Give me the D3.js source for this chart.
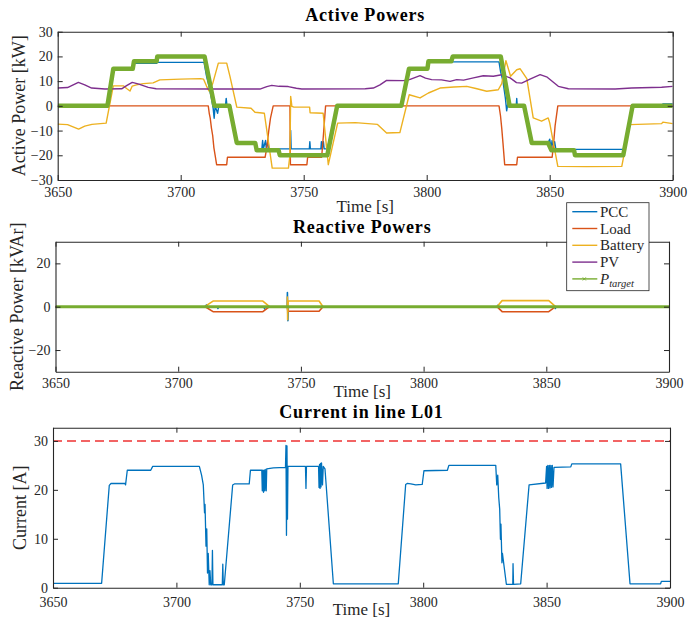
<!DOCTYPE html>
<html>
<head>
<meta charset="utf-8">
<script src="https://cdn.jsdelivr.net/npm/d3@7"></script>
<style>
  body { margin: 0; background: #fff; }
  text { font-family: "Liberation Serif", "Times New Roman", serif; fill: #262626; }
</style>
</head>
<body>
<div id="chart"></div>
<script>
var width = 688;
var height = 623;

// ---- data (time [s], value) ----
var xTicks = [3650, 3700, 3750, 3800, 3850, 3900];
var activeTicks = [-30, -20, -10, 0, 10, 20, 30];
var reactiveTicks = [-20, 0, 20];
var currentTicks = [0, 10, 20, 30];
var currentLimit = 30;

var seriesNames = ['PCC', 'Load', 'Battery', 'PV'];
var seriesColors = ['#0072BD', '#D95319', '#EDB120', '#7E2F8E'];
var targetColor = '#77AC30';

var pccActive = [[3650,0],[3670.2,0],[3672.6,15],[3680.5,15],[3681,17.2],[3690.2,17.2],[3690.5,17.6],[3709.5,17.6],
  [3710.5,12],[3711.5,8],[3712.5,3],[3713.2,-1],[3713.6,-5],[3714,0],[3715,-3],[3715.5,0],[3718.2,0],[3718.5,3],[3718.8,0],
  [3719.8,0],[3722.8,-15],[3730.3,-15],[3730.9,-17.4],[3733,-17.4],[3733.3,-14],[3733.6,-17.4],[3734.5,-14],[3734.8,-17.4],
  [3735.5,-14],[3735.8,-17.4],[3744.5,-17.4],[3744.7,-10],[3744.9,-17.4],[3752.3,-17.4],[3752.5,-14.5],[3752.7,-17.4],
  [3757,-17.4],[3757.2,-14.5],[3757.5,-17.4],[3758,-14.5],[3758.3,-17.4],[3759.6,-17.4],[3763.6,0],[3789.7,0],[3792.8,15],
  [3800.3,15],[3800.7,17.6],[3810,17.6],[3810.6,17.8],[3829.4,17.8],[3830,14],[3831,10],[3832,3],[3832.5,-2],[3833,1],
  [3833.7,0],[3836.4,0],[3836.6,3],[3836.8,0],[3839.6,0],[3842.7,-15],[3849.3,-15],[3850,-13.5],[3850.5,-17],[3851,-14],
  [3851.5,-17],[3852,-14.5],[3852.5,-17.6],[3880,-17.6],[3883.7,0],[3895.8,0],[3896,0.8],[3900,0.8]];

var loadActive = [[3650,0],[3711.2,0],[3711.6,-3],[3712,-5],[3712.5,-9],[3713,-12],[3713.5,-17],[3714,-20],[3714.6,-23.8],
  [3718.7,-23.8],[3719,-20.8],[3734.3,-20.8],[3735,-17],[3735.8,-10],[3736.5,-5],[3737.6,0],[3744.4,0],[3744.6,-23.8],
  [3751.3,-23.8],[3751.6,-20.8],[3757.3,-20.8],[3758,-12],[3758.9,0],[3829.4,0],[3830,-4],[3830.5,-9],[3831,-15],
  [3831.7,-23.8],[3836.6,-23.8],[3836.9,-20.8],[3851,-20.8],[3851.6,-15],[3852.2,-8],[3853.3,0],[3900,0]];

var batteryActive = [[3650,-7.4],[3654,-7.6],[3658.5,-9.4],[3661,-8.2],[3663.9,-7.5],[3669.7,-7],[3672.6,8.1],[3676.7,8.1],
  [3678,7],[3679.4,6],[3680.3,8],[3682,8.5],[3684.8,9],[3688.8,9.3],[3691.5,10.5],[3700,10.8],[3708,11],[3709.3,10.8],
  [3710.5,8],[3711.5,6],[3713,9],[3715.3,17.3],[3718.7,17.3],[3720,12],[3722.8,-0.5],[3728.6,-1],[3730.2,-2.6],[3734,-3],
  [3737.2,-25.2],[3743.8,-25.2],[3744.4,-20],[3744.7,3.8],[3745.2,-0.2],[3746,-0.5],[3752.4,-0.5],[3752.6,-2.8],[3757.9,-3],
  [3760,-23.8],[3763.8,-7],[3771,-6.8],[3780,-7.5],[3783.7,-11],[3789.1,-10.8],[3792.9,4.5],[3797.3,3.2],[3800.7,5.2],
  [3805.4,7.2],[3811,7.6],[3816.3,7.9],[3820,7],[3824.4,5.9],[3829.1,6.5],[3830.5,9],[3832.2,18.3],[3834.1,12],
  [3836.6,14.6],[3838,15],[3840.7,11],[3843.3,-4.9],[3846.7,-6.2],[3849.4,-4.9],[3850,-6.9],[3853.3,-24.5],[3865,-24.6],
  [3879.3,-24.5],[3882.6,-7.6],[3895.5,-7.2],[3896,-6.6],[3900,-7.2]];

var pvActive = [[3650,7.2],[3654,7.4],[3658.4,9.5],[3661,8.5],[3663.8,7.2],[3669.2,6.8],[3676,6.9],[3678,8.2],[3680.3,9.5],
  [3683,8.8],[3686.8,7.5],[3690,6.9],[3714,6.8],[3732.2,6.8],[3735,7.8],[3737,8.3],[3740,7.9],[3743.7,7.8],[3747,7.1],
  [3749.2,6.8],[3775,6.9],[3778.3,7.2],[3781,8.5],[3783.7,10.3],[3790.5,10.2],[3793,10.6],[3797.3,12.2],[3799.5,11.2],
  [3802,10.6],[3806,10.5],[3809.5,9.9],[3812.2,10.6],[3815,10.4],[3819,11.3],[3823,12.2],[3827.1,12],[3830.5,12.6],
  [3833.9,11.3],[3836.5,9.4],[3838.6,9.2],[3842,10.8],[3846.1,12.6],[3849,11.6],[3853.5,7.9],[3857.6,6.9],[3876.6,6.8],
  [3883.3,7.2],[3895.5,7.5],[3900,7.9]];

var targetActive = [[3650,0],[3670.2,0],[3672.6,15],[3680.5,15],[3681,18],[3690.2,18],[3690.5,20],[3709.7,20],[3713.7,0],
  [3719.8,0],[3722.8,-15],[3730.3,-15],[3730.9,-18],[3739.8,-18],[3740.3,-20],[3759.6,-20],[3763.6,0],[3789.7,0],
  [3792.8,15],[3800.3,15],[3800.7,18],[3810,18],[3810.6,20],[3830.1,20],[3833.7,0],[3839.6,0],[3842.7,-15],[3849.3,-15],
  [3850.7,-18],[3859.9,-18],[3860.3,-20],[3879.9,-20],[3883.7,0],[3900,0]];

var pccReactive = [[3650,0],[3711,0],[3711.5,0.8],[3712,0],[3716,0],[3716.2,-0.8],[3716.4,0],[3735,0],[3735.2,-1],
  [3735.4,0],[3744.4,0],[3744.5,6.5],[3744.7,-6.5],[3744.9,0],[3830,0],[3830.2,0.6],[3830.4,0],[3853.5,0],[3853.7,-0.8],
  [3853.9,0],[3900,0]];
var loadReactive = [[3650,0],[3711,0],[3714.2,-2.3],[3734.5,-2.3],[3737.2,0],[3744.4,0],[3744.7,-2.1],[3757.4,-2.1],
  [3759,0],[3829.9,0],[3832,-2.3],[3851,-2.3],[3853.8,0],[3900,0]];
var batteryReactive = [[3650,0],[3710.8,0],[3714.2,2.6],[3734.5,2.6],[3737.2,0],[3744.4,0],[3744.5,4.5],[3744.6,-6],
  [3744.8,2.6],[3757.4,2.6],[3759,0],[3829.9,0],[3832,2.8],[3851,2.8],[3853.8,0],[3900,0]];
var pvReactive = [[3650,0],[3900,0]];
var targetReactive = [[3650,0],[3900,0]];

var currentL01 = [[3650,0.9],[3669.7,0.9],[3672.8,20.9],[3673.5,21.3],[3679.2,21.3],[3679.4,21],[3680.1,24],[3689.6,24],
  [3690.4,24.8],[3709.3,24.8],[3710.2,23],[3710.9,21],[3711.4,15.3],[3711.6,17],[3712,8.5],[3712.3,12],[3712.6,3],
  [3712.9,7],[3713.3,0.6],[3713.6,3.5],[3713.9,0.6],[3714.4,0.6],[3714.6,7.6],[3714.8,0.6],[3718.6,0.6],[3718.8,4.8],
  [3719,0.6],[3719.4,0.6],[3722.8,21],[3723.5,21.2],[3729.5,21.2],[3730,24],[3734.6,24],[3734.8,19.8],[3735,24],
  [3735.3,19.5],[3735.5,24],[3735.8,19.8],[3736,24.2],[3736.4,19.8],[3736.6,24.3],[3739.3,24.5],[3744.2,24.6],
  [3744.4,29.1],[3744.6,10.7],[3744.8,29],[3745,14],[3745.2,24.8],[3752.3,24.8],[3752.5,20.3],[3752.7,24.8],[3757.6,24.8],
  [3757.8,20.5],[3758,25.2],[3758.2,20.3],[3758.4,25.4],[3758.6,20.6],[3758.8,25.5],[3759.2,21],[3759.5,24.8],
  [3760.2,24.3],[3763.6,0.8],[3789.9,0.8],[3792.9,21.1],[3793.5,21.3],[3795,21.2],[3797,21],[3799.6,21.1],[3800.3,23.9],
  [3809.8,24],[3810.4,25],[3829.4,25],[3829.8,21],[3830.2,23],[3830.6,18.5],[3831,16],[3831.3,9.9],[3831.5,13],
  [3831.9,5.1],[3832.1,7],[3833.7,0.7],[3836.3,0.7],[3836.4,4.9],[3836.6,0.7],[3839.5,0.8],[3842.9,21],[3849.6,21.4],
  [3850,24.8],[3850.2,20.3],[3850.5,25],[3850.8,20.3],[3851.1,25],[3851.4,20.4],[3851.7,25],[3852,20.5],[3852.3,25],
  [3852.6,20.6],[3853,24.6],[3859.8,24.7],[3860.2,25.3],[3880,25.3],[3883.8,0.8],[3896.2,0.8],[3896.5,1.3],[3900,1.3]];

var svg = d3.select('#chart')
  .append('svg')
  .attr('width', width)
  .attr('height', height);

var fmt = d3.format('d');

// draws a boxed matlab-style axes, returns the scales and the plot group
function makePanel(opt){
  var x = d3.scaleLinear().domain([3650, 3900]).range([opt.left, opt.right]);
  var y = d3.scaleLinear().domain(opt.yDomain).range([opt.bottom, opt.top]);
  var id = 'clip' + opt.name;
  svg.append('clipPath').attr('id', id)
    .append('rect')
    .attr('x', opt.left).attr('y', opt.top)
    .attr('width', opt.right - opt.left).attr('height', opt.bottom - opt.top);

  var g = svg.append('g').attr('clip-path', 'url(#' + id + ')');

  var axes = svg.append('g');
  axes.append('g')
    .attr('transform', 'translate(0,' + opt.bottom + ')')
    .call(d3.axisBottom(x).tickValues(xTicks).tickFormat(fmt).tickSizeInner(-5).tickSizeOuter(0).tickPadding(opt.xPad));
  axes.append('g')
    .attr('transform', 'translate(0,' + opt.top + ')')
    .call(d3.axisTop(x).tickValues(xTicks).tickSizeInner(-5).tickSizeOuter(0).tickFormat(''));
  axes.append('g')
    .attr('transform', 'translate(' + opt.left + ',0)')
    .call(d3.axisLeft(y).tickValues(opt.yTicks).tickFormat(fmt).tickSizeInner(-5).tickSizeOuter(0).tickPadding(5));
  axes.append('g')
    .attr('transform', 'translate(' + opt.right + ',0)')
    .call(d3.axisRight(y).tickValues(opt.yTicks).tickSizeInner(-5).tickSizeOuter(0).tickFormat(''));
  axes.selectAll('path.domain').attr('stroke', '#262626').attr('stroke-width', 1.1);
  axes.selectAll('.tick line').attr('stroke', '#262626').attr('stroke-width', 1);
  axes.selectAll('.tick text')
    .style('font-family', '"Liberation Serif", serif')
    .style('font-size', '14px')
    .attr('fill', '#262626');

  var cx = (opt.left + opt.right) / 2;
  svg.append('text')
    .text(opt.title)
    .attr('x', cx).attr('y', opt.titleY)
    .attr('text-anchor', 'middle')
    .style('font-size', '18px')
    .style('font-weight', 'bold')
    .style('letter-spacing', '0.8px')
    .style('fill', '#000');
  svg.append('text')
    .text('Time [s]')
    .attr('x', cx).attr('y', opt.xLabelY)
    .attr('text-anchor', 'middle')
    .style('font-size', '17px');
  svg.append('text')
    .text(opt.yLabel)
    .attr('text-anchor', 'middle')
    .attr('transform', 'translate(' + opt.yLabelX + ',' + ((opt.top + opt.bottom) / 2) + ')rotate(-90)')
    .style('font-size', '18px');

  return {x: x, y: y, g: g};
}

function drawLine(panel, data, color, w){
  var line = d3.line()
    .x(function(d){ return panel.x(d[0]); })
    .y(function(d){ return panel.y(d[1]); });
  panel.g.append('path')
    .datum(data)
    .attr('d', line)
    .attr('fill', 'none')
    .attr('stroke', color)
    .attr('stroke-width', w)
    .attr('stroke-linejoin', 'round');
}

//active powers
var top1 = makePanel({name: 'a', left: 57.7, right: 672.7, top: 31.7, bottom: 180, yDomain: [-30, 30],
  yTicks: activeTicks, xPad: 7, title: 'Active Powers', titleY: 21, xLabelY: 212,
  yLabel: 'Active Power [kW]', yLabelX: 25});
[pccActive, loadActive, batteryActive, pvActive].forEach(function(s, i){
  drawLine(top1, s, seriesColors[i], 1.4);
});
drawLine(top1, targetActive, targetColor, 4.5);

//reactive powers
var mid = makePanel({name: 'r', left: 55.5, right: 669, top: 241.7, bottom: 371.7, yDomain: [-30, 30],
  yTicks: reactiveTicks, xPad: 6.3, title: 'Reactive Powers', titleY: 233, xLabelY: 397,
  yLabel: 'Reactive Power [kVAr]', yLabelX: 22.5});
[pccReactive, loadReactive, batteryReactive, pvReactive].forEach(function(s, i){
  drawLine(mid, s, seriesColors[i], 1.6);
});
drawLine(mid, targetReactive, targetColor, 3);

//current in line L01
var bot = makePanel({name: 'c', left: 53, right: 670, top: 427.7, bottom: 587.7, yDomain: [0, 32.7],
  yTicks: currentTicks, xPad: 9, title: 'Current in line L01', titleY: 418, xLabelY: 615,
  yLabel: 'Current [A]', yLabelX: 26});
drawLine(bot, currentL01, '#0072BD', 1.3);
bot.g.append('line')
  .attr('x1', bot.x(3650)).attr('x2', bot.x(3900))
  .attr('y1', bot.y(currentLimit)).attr('y2', bot.y(currentLimit))
  .attr('stroke', '#F26464')
  .attr('stroke-width', 2)
  .attr('stroke-dasharray', '9,5');

//legend
var legend = svg.append('g');
legend.append('rect')
  .attr('x', 566.7).attr('y', 202.7)
  .attr('width', 82.3).attr('height', 88)
  .attr('fill', '#fff')
  .attr('stroke', '#262626')
  .attr('stroke-width', 0.8);
var legendItems = seriesNames.concat(['target']);
legendItems.forEach(function(name, i){
  var yy = 211.7 + i * 16.8;
  var col = i < 4 ? seriesColors[i] : targetColor;
  legend.append('line')
    .attr('x1', 572.3).attr('x2', 597.3)
    .attr('y1', yy).attr('y2', yy)
    .attr('stroke', col)
    .attr('stroke-width', 1.4);
  var t = legend.append('text')
    .attr('x', 600).attr('y', yy + 5)
    .style('font-size', '15px');
  if(i < 4){
    t.text(name);
  }else{
    legend.append('path')
      .attr('d', 'M582.8,' + (yy - 1.5) + 'L585.8,' + (yy + 1.5) + 'M582.8,' + (yy + 1.5) + 'L585.8,' + (yy - 1.5))
      .attr('stroke', col).attr('stroke-width', 1);
    t.append('tspan').text('P').style('font-style', 'italic');
    t.append('tspan').text(name).attr('dy', 3).style('font-size', '10.5px').style('font-style', 'italic');
  }
});
</script>
</body>
</html>
